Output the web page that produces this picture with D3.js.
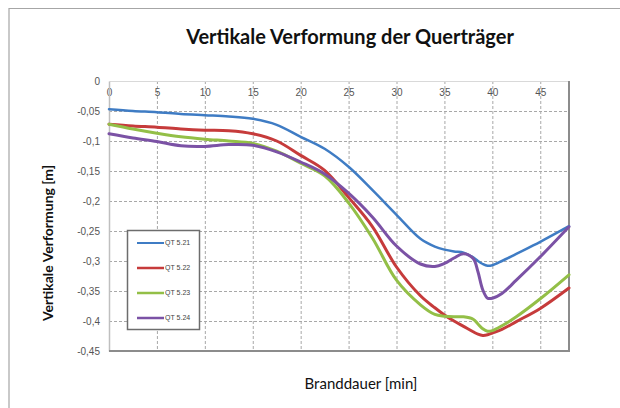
<!DOCTYPE html>
<html>
<head>
<meta charset="utf-8">
<script src="https://cdn.jsdelivr.net/npm/d3@7"></script>
<style>
  html, body { margin: 0; padding: 0; background: #fff; }
  svg { display: block; }
</style>
</head>
<body>
<svg id="chart" width="620" height="408"></svg>
<script>
// Zeit in Minuten, Verformung in m
const times = [0, 2.5, 5, 7.5, 10, 12.5, 15, 17.5, 20, 22.5, 25, 27.5, 30, 32.5, 34, 35, 36, 37, 38, 38.5, 39, 39.5, 40, 41, 42.5, 45, 48];
const qt521 = [-0.047, -0.050, -0.052, -0.055, -0.057, -0.059, -0.063, -0.073, -0.093, -0.113, -0.143, -0.182, -0.223, -0.263, -0.276, -0.281, -0.284, -0.286, -0.294, -0.300, -0.305, -0.308, -0.307, -0.300, -0.288, -0.268, -0.242];
const qt522 = [-0.072, -0.075, -0.077, -0.080, -0.082, -0.083, -0.088, -0.100, -0.124, -0.149, -0.194, -0.243, -0.310, -0.358, -0.378, -0.390, -0.400, -0.409, -0.418, -0.422, -0.424, -0.423, -0.420, -0.414, -0.401, -0.379, -0.345];
const qt523 = [-0.072, -0.080, -0.087, -0.093, -0.097, -0.100, -0.104, -0.117, -0.137, -0.158, -0.203, -0.262, -0.332, -0.373, -0.389, -0.392, -0.393, -0.393, -0.397, -0.405, -0.413, -0.417, -0.416, -0.408, -0.393, -0.363, -0.323];
const qt524 = [-0.088, -0.095, -0.101, -0.108, -0.109, -0.106, -0.107, -0.118, -0.135, -0.155, -0.187, -0.227, -0.275, -0.305, -0.309, -0.304, -0.295, -0.288, -0.296, -0.318, -0.348, -0.362, -0.362, -0.354, -0.332, -0.293, -0.243];
const seriesNames = ["QT 5.21", "QT 5.22", "QT 5.23", "QT 5.24"];
const xTicks = [0, 5, 10, 15, 20, 25, 30, 35, 40, 45];
const yTicks = [0, -0.05, -0.1, -0.15, -0.2, -0.25, -0.3, -0.35, -0.4, -0.45];

const colors = ["#3f7cc4", "#c63b3b", "#93bf47", "#7b52a5"];
const widths = [2.5, 3, 3, 3];
const series = [qt521, qt522, qt523, qt524].map((vals, i) => ({
  name: seriesNames[i],
  points: vals.map((v, j) => [times[j], v])
}));

const svg = d3.select("#chart");
const plotL = 109, plotR = 569, plotT = 81, plotB = 351;

const x = d3.scaleLinear().domain([0, 48]).range([plotL, plotR]);
const y = d3.scaleLinear().domain([-0.45, 0]).range([plotB, plotT]);

const de = d3.formatLocale({decimal: ",", thousands: ".", grouping: [3], currency: ["", " €"], minus: "-"});
const fmt = de.format("~g");

// Rahmen des Diagramms
svg.append("path")
  .attr("d", "M9,420 L9,8.5 L630,8.5")
  .attr("fill", "none")
  .attr("stroke", "#a6a6a6")
  .attr("stroke-width", 1.2);

// Gitter
const grid = svg.append("g")
  .attr("stroke", "#a8a8a8")
  .attr("stroke-width", 1)
  .attr("stroke-dasharray", "3,2");
grid.selectAll(".h").data(yTicks.slice(1, -1)).join("line")
  .attr("class", "h")
  .attr("x1", plotL).attr("x2", plotR)
  .attr("y1", d => y(d) + 0.5).attr("y2", d => y(d) + 0.5);
grid.selectAll(".v").data(xTicks.slice(1)).join("line")
  .attr("class", "v")
  .attr("y1", plotT).attr("y2", plotB)
  .attr("x1", d => x(d) + 0.5).attr("x2", d => x(d) + 0.5);

// Achsen
const xAxis = svg.append("g")
  .attr("transform", `translate(0,${y(0)})`)
  .call(d3.axisBottom(x).tickValues(xTicks).tickSize(0).tickPadding(8).tickFormat(fmt));
xAxis.select(".domain").attr("stroke", "#d9d9d9");

const yAxis = svg.append("g")
  .attr("transform", `translate(${plotL},0)`)
  .call(d3.axisLeft(y).tickValues(yTicks).tickSize(0).tickPadding(9).tickFormat(fmt));
yAxis.select(".domain").attr("stroke", "#bfbfbf").attr("stroke-width", 1.5);

svg.selectAll(".tick text")
  .attr("font-family", "Liberation Sans, Arial, sans-serif")
  .attr("font-size", 10)
  .attr("fill", "#555");

// Rand rechts und unten
svg.append("path")
  .attr("d", `M${plotL},${plotB} L${plotR},${plotB} L${plotR},${plotT}`)
  .attr("fill", "none")
  .attr("stroke", "#8c8c8c")
  .attr("stroke-width", 2);

// Kurven
const line = d3.line()
  .x(d => x(d[0]))
  .y(d => y(d[1]))
  .curve(d3.curveCatmullRom.alpha(0.5));

svg.append("g").selectAll("path").data(series).join("path")
  .attr("d", d => line(d.points))
  .attr("fill", "none")
  .attr("stroke", (d, i) => colors[i])
  .attr("stroke-width", (d, i) => widths[i])
  .attr("stroke-linejoin", "round")
  .attr("stroke-linecap", "round");

// Titel
svg.append("text")
  .attr("x", 350).attr("y", 44)
  .attr("text-anchor", "middle")
  .attr("font-family", "Lato, sans-serif")
  .attr("font-weight", "bold")
  .attr("font-size", 20)
  .attr("fill", "#111")
  .text("Vertikale Verformung der Querträger");

svg.append("text")
  .attr("transform", "translate(53,243) rotate(-90)")
  .attr("text-anchor", "middle")
  .attr("font-family", "Lato, sans-serif")
  .attr("font-weight", "bold")
  .attr("font-size", 14)
  .attr("fill", "#111")
  .text("Vertikale Verformung [m]");

svg.append("text")
  .attr("x", 361).attr("y", 389)
  .attr("text-anchor", "middle")
  .attr("font-family", "Lato, sans-serif")
  .attr("font-size", 15)
  .attr("fill", "#111")
  .text("Branddauer [min]");

// Legende
const legend = svg.append("g");
legend.append("rect")
  .attr("x", 127.5).attr("y", 230.5)
  .attr("width", 72).attr("height", 99)
  .attr("fill", "#fff")
  .attr("stroke", "#6d6d6d")
  .attr("stroke-width", 1.5);
const items = legend.selectAll("g").data(series).join("g")
  .attr("transform", (d, i) => `translate(137,${243 + i * 25})`);
items.append("line")
  .attr("x1", 0).attr("x2", 27)
  .attr("stroke", (d, i) => colors[i])
  .attr("stroke-width", (d, i) => widths[i] - 0.5);
items.append("text")
  .attr("x", 28).attr("dy", "0.35em")
  .attr("font-family", "Liberation Sans, Arial, sans-serif")
  .attr("font-size", 7)
  .attr("fill", "#444")
  .text(d => d.name);
</script>
</body>
</html>
